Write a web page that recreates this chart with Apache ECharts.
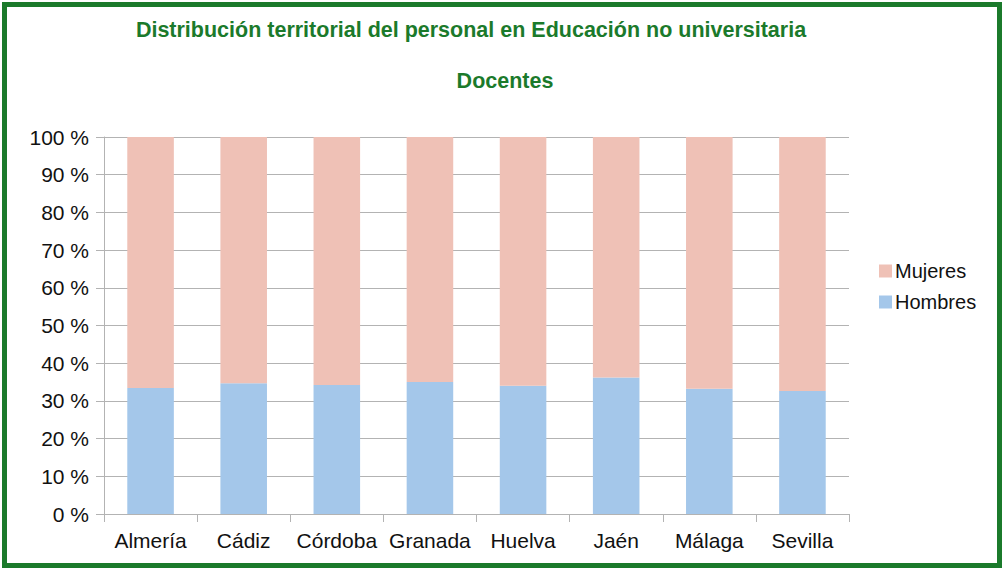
<!DOCTYPE html>
<html>
<head>
<meta charset="utf-8">
<script src="https://cdn.jsdelivr.net/npm/echarts@6/dist/echarts.min.js"></script>
<style>
  html, body { margin: 0; padding: 0; background: #fff; }
  #chart { width: 1003px; height: 569px; }
</style>
</head>
<body>
<div id="chart"></div>
<script>
var provincias = ['Almería', 'Cádiz', 'Córdoba', 'Granada', 'Huelva', 'Jaén', 'Málaga', 'Sevilla'];
var hombres = [33.4, 34.7, 34.2, 35.0, 34.0, 36.2, 33.2, 32.6];
var mujeres = [66.6, 65.3, 65.8, 65.0, 66.0, 63.8, 66.8, 67.4];

(function() {
  var green = '#1b7a2b';
  var gridGrey = '#b3b3b3';
  var font = '"Liberation Sans", Arial, sans-serif';

  var chart = echarts.init(document.getElementById('chart'), null, { renderer: 'svg' });
  chart.setOption({
    animation: false,
    textStyle: { fontFamily: font },
    graphic: [{
      type: 'rect',
      shape: { x: 4.5, y: 4.5, width: 995, height: 561 },
      style: { fill: null, stroke: green, lineWidth: 5 }
    }],
    title: [{
      text: 'Distribución territorial del personal en Educación no universitaria',
      left: 466, top: 14, textAlign: 'center',
      textStyle: { color: green, fontSize: 21.5, fontWeight: 'bold', fontFamily: font }
    }, {
      text: 'Docentes',
      left: 500, top: 65, textAlign: 'center',
      textStyle: { color: green, fontSize: 21.5, fontWeight: 'bold', fontFamily: font }
    }],
    legend: {
      orient: 'vertical',
      left: 874, top: 256,
      itemWidth: 13, itemHeight: 13, itemGap: 11,
      icon: 'rect',
      data: ['Mujeres', 'Hombres'],
      textStyle: { color: '#111', fontSize: 20, fontFamily: font, padding: [0, 0, 0, -2] }
    },
    grid: { left: 104, right: 154, top: 137, bottom: 55 },
    xAxis: {
      type: 'category',
      data: provincias,
      axisLine: { lineStyle: { color: gridGrey } },
      axisTick: { show: true, length: 8, lineStyle: { color: gridGrey } },
      axisLabel: { color: '#111', fontSize: 21, margin: 16, interval: 0 },
      splitLine: { show: false }
    },
    yAxis: {
      type: 'value',
      min: 0, max: 100, interval: 10,
      axisLine: { show: true, lineStyle: { color: gridGrey } },
      axisTick: { show: true, length: 8, lineStyle: { color: gridGrey } },
      axisLabel: { color: '#111', fontSize: 21, margin: 15, formatter: '{value} %' },
      splitLine: { lineStyle: { color: gridGrey } }
    },
    series: [{
      name: 'Hombres',
      type: 'bar',
      stack: 'total',
      barWidth: '50%',
      data: hombres,
      itemStyle: { color: '#a4c7ea' }
    }, {
      name: 'Mujeres',
      type: 'bar',
      stack: 'total',
      barWidth: '50%',
      data: mujeres,
      itemStyle: { color: '#efc1b6' }
    }]
  });
})();
</script>
</body>
</html>
